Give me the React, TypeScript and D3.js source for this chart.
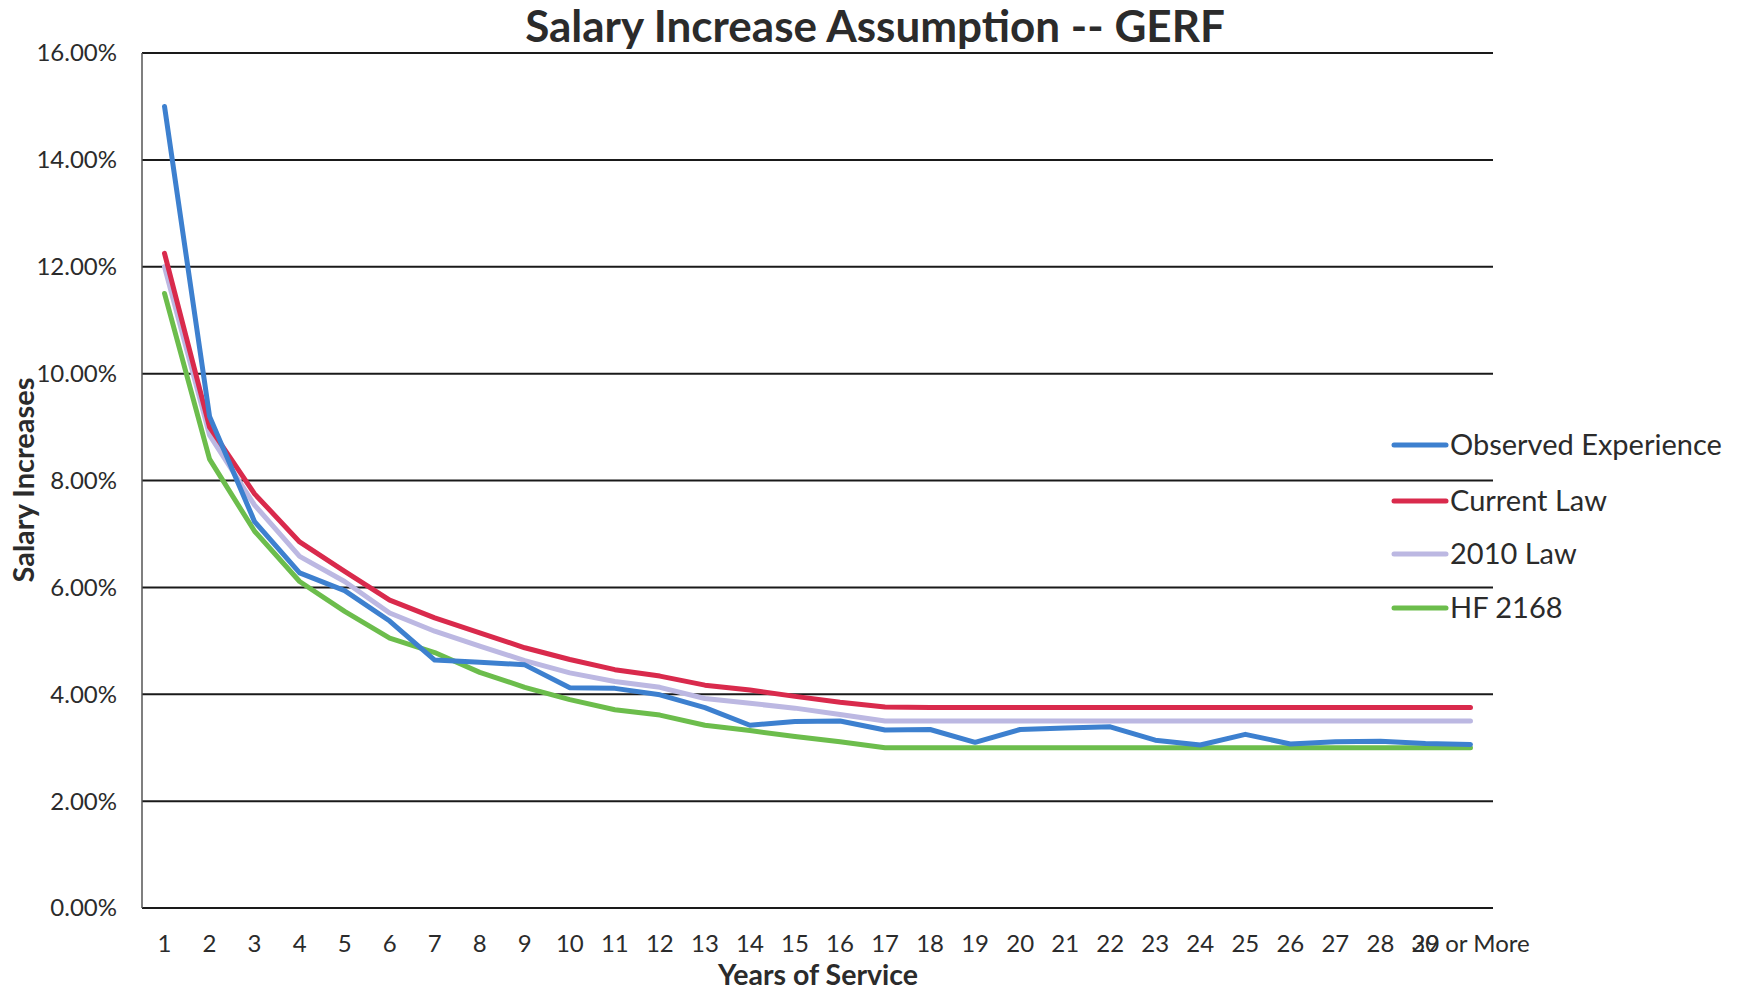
import React from "react";
import * as d3 from "d3";

const categories: string[] = [
  "1","2","3","4","5","6","7","8","9","10","11","12","13","14","15","16","17","18","19","20",
  "21","22","23","24","25","26","27","28","29","30 or More",
];
const observed: number[] = [15.0, 9.2, 7.23, 6.27, 5.94, 5.37, 4.64, 4.6, 4.55, 4.12, 4.11, 3.99, 3.75, 3.42, 3.49, 3.5, 3.33, 3.34, 3.1, 3.34, 3.37, 3.39, 3.14, 3.05, 3.25, 3.07, 3.11, 3.12, 3.08, 3.06];
const currentLaw: number[] = [12.25, 9.0, 7.75, 6.85, 6.3, 5.76, 5.43, 5.15, 4.87, 4.65, 4.46, 4.34, 4.17, 4.08, 3.96, 3.85, 3.76, 3.75, 3.75, 3.75, 3.75, 3.75, 3.75, 3.75, 3.75, 3.75, 3.75, 3.75, 3.75, 3.75];
const law2010: number[] = [12.0, 8.85, 7.54, 6.58, 6.11, 5.52, 5.18, 4.9, 4.63, 4.4, 4.24, 4.13, 3.92, 3.83, 3.74, 3.62, 3.5, 3.5, 3.5, 3.5, 3.5, 3.5, 3.5, 3.5, 3.5, 3.5, 3.5, 3.5, 3.5, 3.5];
const hf2168: number[] = [11.5, 8.4, 7.05, 6.11, 5.55, 5.05, 4.78, 4.41, 4.13, 3.9, 3.71, 3.61, 3.42, 3.32, 3.21, 3.11, 3.0, 3.0, 3.0, 3.0, 3.0, 3.0, 3.0, 3.0, 3.0, 3.0, 3.0, 3.0, 3.0, 3.0];
const yTicks: number[] = [0, 2, 4, 6, 8, 10, 12, 14, 16];
const seriesNames: string[] = ["Observed Experience", "Current Law", "2010 Law", "HF 2168"];
const seriesColors: string[] = ["#3d80cf", "#d92a4c", "#bcb8e2", "#6cbd4c"];

const W = 1741;
const H = 990;
const FONT = "Lato, 'Open Sans', sans-serif";

export default function App() {
  const x = d3.scaleBand<string>().domain(categories).range([142, 1493]).paddingInner(0).paddingOuter(0);
  const y = d3.scaleLinear().domain([0, 16]).range([908, 53]);
  const cx = (c: string) => (x(c) as number) + x.bandwidth() / 2;
  const allSeries = [observed, currentLaw, law2010, hf2168];
  const line = d3
    .line<number>()
    .x((_, i) => cx(categories[i]))
    .y((d) => y(d));
  const order = [2, 3, 1, 0];
  return (
    <svg width={W} height={H} style={{ display: "block", position: "absolute", left: 0, top: 0, background: "#fff" }}>
      <rect x={0} y={0} width={W} height={H} fill="#fff" />
      <text x={875} y={42} textAnchor="middle" fontFamily={FONT} fontWeight={700} fontSize={44} fill="#2b2b2b">
        Salary Increase Assumption -- GERF
      </text>
      {yTicks.map((t) => (
        <g key={t}>
          <line x1={142} x2={1493} y1={y(t)} y2={y(t)} stroke="#1a1a1a" strokeWidth={2} />
          <text x={117} y={y(t)} dy="0.35em" textAnchor="end" fontFamily={FONT} fontSize={24} fill="#2b2b2b">
            {t.toFixed(2) + "%"}
          </text>
        </g>
      ))}
      <line x1={142} x2={142} y1={y(16)} y2={y(0)} stroke="#555" strokeWidth={1.5} />
      {categories.map((c) => (
        <text key={c} x={cx(c)} y={944} dy="0.35em" textAnchor="middle" fontFamily={FONT} fontSize={24} fill="#2b2b2b">
          {c}
        </text>
      ))}
      {order.map((si) => (
        <path key={si} d={line(allSeries[si]) || ""} fill="none" stroke={seriesColors[si]} strokeWidth={5} strokeLinejoin="round" strokeLinecap="round" />
      ))}
      <text x={818} y={975} dy="0.35em" textAnchor="middle" fontFamily={FONT} fontWeight={700} fontSize={28.5} fill="#2b2b2b">
        Years of Service
      </text>
      <text transform={`translate(24,480) rotate(-90)`} dy="0.35em" textAnchor="middle" fontFamily={FONT} fontWeight={700} fontSize={29} fill="#2b2b2b">
        Salary Increases
      </text>
      {seriesNames.map((n, i) => {
        const ly = [445, 501, 554, 608][i];
        return (
          <g key={n}>
            <line x1={1394} x2={1446} y1={ly} y2={ly} stroke={seriesColors[i]} strokeWidth={5} strokeLinecap="round" />
            <text x={1450} y={ly} dy="0.35em" fontFamily={FONT} fontSize={29} fill="#2b2b2b">
              {n}
            </text>
          </g>
        );
      })}
    </svg>
  );
}
